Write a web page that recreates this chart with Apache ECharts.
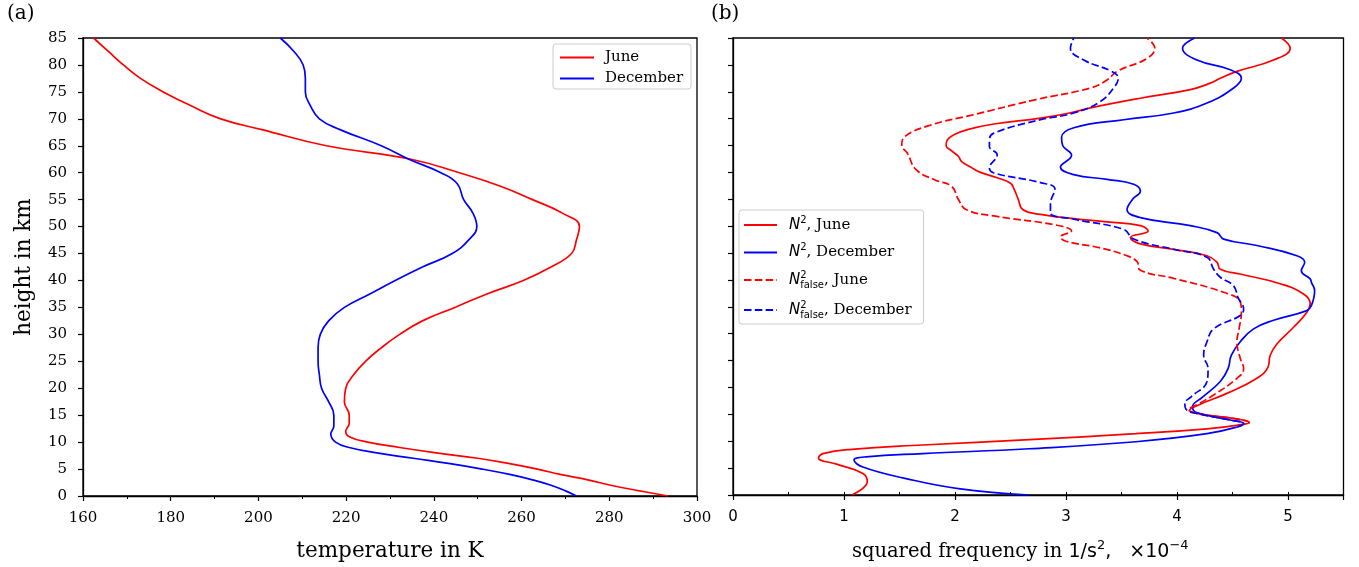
<!DOCTYPE html>
<html><head><meta charset="utf-8">
<script src="https://cdn.jsdelivr.net/npm/echarts@6/dist/echarts.min.js"></script>
<style>html,body{margin:0;padding:0;background:#fff}#c{width:1359px;height:567px}</style>
</head><body><div id="c"></div>
<script>
// ---- data: [value, height km] ----
const tempJune = [[293.4,0],[286.6,1],[280.3,2],[275.1,3],[268.8,4],[263.6,5],[257.3,6],[250,7],[240.6,8],[232.2,9],[224.9,10],[220.7,11],[219.9,12],[220.7,13.5],[220.7,15],[219.6,17.5],[219.9,20],[221.7,22.5],[224.4,25],[228,27.5],[232.2,30],[237.4,32.5],[244.8,35],[252.1,37.5],[260.4,40],[266.7,42.5],[271.4,45],[272.5,47.5],[273.2,50],[269.3,52.5],[262.5,55],[255.2,57.5],[245.8,60],[234.8,62.5],[215.5,65],[200.8,68],[191.4,70],[184.4,72.5],[178.3,75],[173.1,77.5],[169.2,80],[165.8,82.5],[162.4,85]];
const tempDecember = [[272.5,0],[269.9,1],[266.7,2],[262.5,3],[257.3,4],[251,5],[243.7,6],[235.3,7],[227,8],[220.7,9],[217.6,10],[216.5,11.5],[217.2,13],[217.2,15],[216,17.5],[214.4,20],[213.9,22.5],[213.6,25],[213.6,27.5],[214.1,30],[216,32.5],[219.6,35],[225.4,37.5],[231.2,40],[237.4,42.5],[244.2,45],[247.9,47.5],[249.8,50],[248.9,52.5],[246.8,55],[245.3,58],[241.6,60],[234.3,62.5],[228,65],[218.6,68],[213.9,70],[211.8,72.5],[210.7,75],[210.7,77.5],[210.2,80],[208.1,82.5],[205,85]];
const n2June = [[1.07,0],[1.21,2.5],[1.17,4.0],[0.94,5.7],[0.77,6.9],[0.81,7.7],[1.07,8.5],[1.71,9.3],[2.67,10.3],[3.63,11.4],[4.27,12.3],[4.55,13.0],[4.65,13.5],[4.52,14.2],[4.20,15.1],[4.11,15.7],[4.19,16.7],[4.45,18.9],[4.72,21.7],[4.82,23.8],[4.84,26.0],[4.90,28.1],[5.05,31.2],[5.17,34.0],[5.20,35.6],[5.14,37.4],[4.93,39.3],[4.57,41.1],[4.39,42.0],[4.36,43.3],[4.27,44.5],[3.97,45.7],[3.67,46.7],[3.58,47.9],[3.74,49.1],[3.67,50.1],[3.37,50.8],[3.07,51.4],[2.77,52.2],[2.61,53.1],[2.57,55],[2.53,57],[2.50,58],[2.38,59],[2.23,60],[2.14,61],[2.06,62],[2.03,63],[1.97,64],[1.92,65],[1.93,66],[1.99,67],[2.12,68],[2.35,69],[2.77,70.1],[3.02,71],[3.22,72.0],[3.67,73.8],[4.12,75.4],[4.30,76.6],[4.39,77.5],[4.54,78.8],[4.87,80.9],[5.02,83.1],[4.94,85]];
const n2December = [[2.67,0],[2.03,1.2],[1.55,3.1],[1.17,5.2],[1.09,6.5],[1.20,7.1],[1.71,7.7],[2.67,8.6],[3.63,9.9],[4.27,11.4],[4.55,12.7],[4.60,13.3],[4.49,13.9],[4.17,15.4],[4.14,16.4],[4.23,18.2],[4.39,21.1],[4.46,23.5],[4.49,26.0],[4.57,28.5],[4.69,30.9],[4.87,32.5],[5.17,34.3],[5.21,35.2],[5.24,38.0],[5.21,39.6],[5.20,40.2],[5.12,41.7],[5.15,43.3],[5.08,44.5],[4.72,46.4],[4.42,47.6],[4.36,48.8],[4.12,50.1],[3.67,51.6],[3.55,53.1],[3.60,55],[3.67,56.5],[3.61,57.8],[3.37,58.7],[3.07,59.6],[2.95,61],[3.05,63.2],[2.97,65],[2.96,66.5],[3.07,68.3],[3.52,69.8],[3.97,71.05],[4.27,72.9],[4.51,75.7],[4.58,77.5],[4.48,79.1],[4.18,80.9],[4.05,83.1],[4.16,85]];
const n2FalseJune = [[4.55,13.0],[4.65,13.5],[4.52,14.2],[4.20,15.1],[4.11,15.9],[4.20,17.0],[4.33,18.6],[4.54,21.7],[4.60,23.5],[4.57,25.4],[4.54,28.5],[4.56,31],[4.58,34.0],[4.57,35.9],[4.42,37.7],[3.97,40.3],[3.67,41.8],[3.64,43.4],[3.55,44.5],[3.30,46],[3.00,47.2],[2.95,48],[3.05,49.1],[2.91,50.2],[2.35,51.9],[2.10,53.1],[2.03,55],[1.97,57.4],[1.82,58.6],[1.65,60.5],[1.57,63.6],[1.52,65],[1.55,66.7],[1.78,68.8],[2.16,70.7],[2.72,73.5],[3.22,75.7],[3.37,77.2],[3.46,78.8],[3.73,81.2],[3.80,83.1],[3.73,85]];
const n2FalseDecember = [[4.55,12.7],[4.60,13.3],[4.49,13.9],[4.17,15.2],[4.08,16.0],[4.07,17.0],[4.13,18.3],[4.27,21.1],[4.28,23.5],[4.24,26.0],[4.27,28.5],[4.33,30.9],[4.57,33.4],[4.60,34.6],[4.55,36.7],[4.51,38.9],[4.39,40.5],[4.33,42.0],[4.27,44.2],[3.97,45.7],[3.61,47.6],[3.52,49.4],[3.07,51.3],[2.86,52.5],[2.86,54.1],[2.90,56.9],[2.77,58.1],[2.35,59.9],[2.31,60.8],[2.38,63.3],[2.31,64.8],[2.31,66.0],[2.35,67.3],[2.77,69.8],[3.07,71.05],[3.31,73.2],[3.44,76.0],[3.47,77.5],[3.41,78.8],[3.16,80.9],[3.04,83.1],[3.07,85]];

const RED = '#ff0000', BLUE = '#0000ff';
const SERIF = 'DejaVu Serif', SANS = 'DejaVu Sans';

const chart = echarts.init(document.getElementById('c'), null, {renderer: 'canvas'});

function axisCommon(extra) {
  return Object.assign({
    type: 'value',
    axisLine: {show: true, onZero: false, lineStyle: {color: '#000', width: 1.3}},
    axisTick: {show: true, length: 5, lineStyle: {color: '#000', width: 1.2}},
    splitLine: {show: false},
    axisLabel: {color: '#000', fontFamily: SERIF, fontSize: 15}
  }, extra);
}

function line(name, data, color, dashed, xi, yi) {
  return {
    name: name, type: 'line', data: data, xAxisIndex: xi, yAxisIndex: yi,
    smooth: 0.45, symbol: 'none', showSymbol: false, animation: false,
    color: color,
    lineStyle: {color: color, width: 1.7, type: dashed ? [7.5, 3.3] : 'solid'},
    z: 3
  };
}

const richLegend2 = {
  n: {fontFamily: SANS, fontStyle: 'italic', fontSize: 15, color: '#000', lineHeight: 20, padding: [0, 0, 0, 7]},
  s: {fontFamily: SANS, fontSize: 10, color: '#000', verticalAlign: 'top', lineHeight: 12},
  sp: {fontFamily: SANS, fontSize: 10, color: '#000', verticalAlign: 'top', lineHeight: 12, width: 0},
  sb: {fontFamily: SANS, fontSize: 10, color: '#000', verticalAlign: 'bottom', lineHeight: 12},
  t: {fontFamily: SERIF, fontSize: 15, color: '#000', lineHeight: 20}
};

const option = {
  animation: false,
  backgroundColor: '#fff',
  grid: [
    {left: 83, top: 38, width: 614, height: 459, show: true, borderColor: '#000', borderWidth: 1.3, backgroundColor: 'transparent'},
    {left: 733, top: 38, width: 610.5, height: 459, show: true, borderColor: '#000', borderWidth: 1.3, backgroundColor: 'transparent'}
  ],
  xAxis: [
    axisCommon({gridIndex: 0, min: 160, max: 300, interval: 20,
      minorTick: {show: true, splitNumber: 2, length: 3, lineStyle: {color: '#000', width: 1}},
      axisLabel: {color: '#000', fontFamily: SERIF, fontSize: 15, margin: 15},
      name: 'temperature in K', nameLocation: 'middle', nameGap: 44,
      nameTextStyle: {fontFamily: SERIF, fontSize: 21.5, color: '#000'}}),
    axisCommon({gridIndex: 1, min: 0, max: 5.5, interval: 1,
      axisLabel: {color: '#000', fontFamily: SANS, fontSize: 15, margin: 15,
        formatter: v => (Number.isInteger(v) ? String(v) : '')},
      name: '{a|squared frequency in }{b|1/s}{c|2}{b|,   ×10}{c|−4}', nameLocation: 'middle', nameGap: 44,
      nameTextStyle: {color: '#000', padding: [0, 36, 0, 0], rich: {
        a: {fontFamily: SERIF, fontSize: 19.5, color: '#000', lineHeight: 26},
        b: {fontFamily: SANS, fontSize: 19, color: '#000', lineHeight: 26},
        c: {fontFamily: SANS, fontSize: 13, color: '#000', verticalAlign: 'top', lineHeight: 16}
      }}}),
    axisCommon({gridIndex: 1, min: 0, max: 5.5, interval: 0.5,
      axisLine: {show: false}, axisLabel: {show: false},
      axisTick: {show: true, length: 3, lineStyle: {color: '#000', width: 1}}})
  ],
  yAxis: [
    axisCommon({gridIndex: 0, min: 0, max: 85, interval: 5,
      axisLabel: {color: '#000', fontFamily: SERIF, fontSize: 15, margin: 16},
      name: 'height in km', nameLocation: 'middle', nameGap: 48,
      nameTextStyle: {fontFamily: SERIF, fontSize: 21.5, color: '#000'}}),
    axisCommon({gridIndex: 1, min: 0, max: 85, interval: 5, axisLabel: {show: false}})
  ],
  legend: [
    {data: ['June', 'December'], left: 553, top: 44, orient: 'vertical',
      itemWidth: 34, itemHeight: 12, itemGap: 6, padding: [6, 8, 3, 6],
      itemStyle: {opacity: 0},
      borderColor: '#cccccc', borderWidth: 1, borderRadius: 3, backgroundColor: 'rgba(255,255,255,0.8)',
      formatter: name => '{t|' + name + '}',
      textStyle: {color: '#000', rich: {t: {fontFamily: SERIF, fontSize: 15, color: '#000', lineHeight: 16, padding: [0, 0, 0, 6]}}}},
    {data: ['N2 June', 'N2 December', 'N2false June', 'N2false December'], left: 739, top: 210, orient: 'vertical',
      itemWidth: 33, itemHeight: 12, itemGap: 10, padding: [5, 12, 4, 4],
      itemStyle: {opacity: 0},
      borderColor: '#cccccc', borderWidth: 1, borderRadius: 3, backgroundColor: 'rgba(255,255,255,0.8)',
      formatter: name => {
        const base = name.startsWith('N2false') ? '{n|N}{sp|2}{sb|false}' : '{n|N}{s|2}';
        const month = name.endsWith('June') ? 'June' : 'December';
        return base + '{t|, ' + month + '}';
      },
      textStyle: {color: '#000', height: 20, rich: richLegend2}}
  ],
  graphic: [
    {type: 'text', left: 7, top: 4, style: {text: '(a)', fontFamily: SERIF, fontSize: 20, fill: '#000'}},
    {type: 'text', left: 711, top: 4, style: {text: '(b)', fontFamily: SERIF, fontSize: 20, fill: '#000'}}
  ],
  series: [
    line('June', tempJune, RED, false, 0, 0),
    line('December', tempDecember, BLUE, false, 0, 0),
    line('N2 June', n2June, RED, false, 1, 1),
    line('N2 December', n2December, BLUE, false, 1, 1),
    line('N2false June', n2FalseJune, RED, true, 1, 1),
    line('N2false December', n2FalseDecember, BLUE, true, 1, 1)
  ]
};
chart.setOption(option);
</script></body></html>
